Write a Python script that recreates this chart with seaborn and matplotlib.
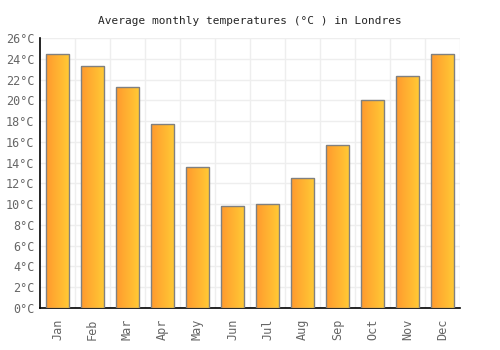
import numpy as np
import pandas as pd
import matplotlib
matplotlib.use('Agg')
import matplotlib.pyplot as plt
import seaborn as sns
from matplotlib.colors import LinearSegmentedColormap

months = ['Jan', 'Feb', 'Mar', 'Apr', 'May', 'Jun', 'Jul', 'Aug', 'Sep', 'Oct', 'Nov', 'Dec']
temps = [24.5, 23.3, 21.3, 17.7, 13.6, 9.8, 10.0, 12.5, 15.7, 20.0, 22.4, 24.5]
yticks = list(range(0, 27, 2))
ytick_labels = [f'{t}°C' for t in yticks]

df = pd.DataFrame({'month': months, 'temp': temps})

sns.set_style('white')
plt.rcParams['font.family'] = ['DejaVu Sans Mono']

fig = plt.figure(figsize=(5, 3.5), dpi=100)
ax = fig.add_axes([0.08, 0.12, 0.84, 0.771])

sns.barplot(data=df, x='month', y='temp', ax=ax, width=0.66,
            color='#ffb030', edgecolor='#808080', linewidth=1.0, zorder=3)

# gradient fill orange -> yellow inside each bar
cmap = LinearSegmentedColormap.from_list('og', ['#ff9a2e', '#ffcb35'])
grad = np.linspace(0, 1, 64).reshape(1, -1)
for p in ax.patches:
    x0, y0 = p.get_x(), p.get_y()
    w, h = p.get_width(), p.get_height()
    im = ax.imshow(grad, cmap=cmap, aspect='auto', extent=[x0, x0 + w, y0, y0 + h],
                   zorder=3.5, interpolation='bilinear')
    im.set_clip_path(p)
    p.set_facecolor('none')
    p.set_zorder(4)

ax.set_xlim(-0.5, len(months) - 0.5)
ax.set_ylim(0, 26)
ax.set_yticks(yticks)
ax.set_yticklabels(ytick_labels)
ax.set_xticks(np.arange(len(months)) + 0.5, minor=True)
ax.grid(True, which='major', axis='y', color='#eeeeee', linewidth=1, zorder=0)
ax.grid(True, which='minor', axis='x', color='#eeeeee', linewidth=1, zorder=0)
ax.tick_params(axis='x', which='minor', length=0)
ax.tick_params(axis='x', which='major', rotation=90, length=0, pad=8)
ax.tick_params(axis='y', length=0, pad=4)
for lbl in ax.get_xticklabels() + ax.get_yticklabels():
    lbl.set_color('#666666')
    lbl.set_fontsize(8.5)

for s in ['top', 'right']:
    ax.spines[s].set_visible(False)
for s in ['left', 'bottom']:
    ax.spines[s].set_color('black')
    ax.spines[s].set_linewidth(1.2)

ax.set_xlabel('')
ax.set_ylabel('')
fig.suptitle('Average monthly temperatures (°C ) in Londres', y=0.955, fontsize=8)

fig.savefig('out.png', dpi=100)
